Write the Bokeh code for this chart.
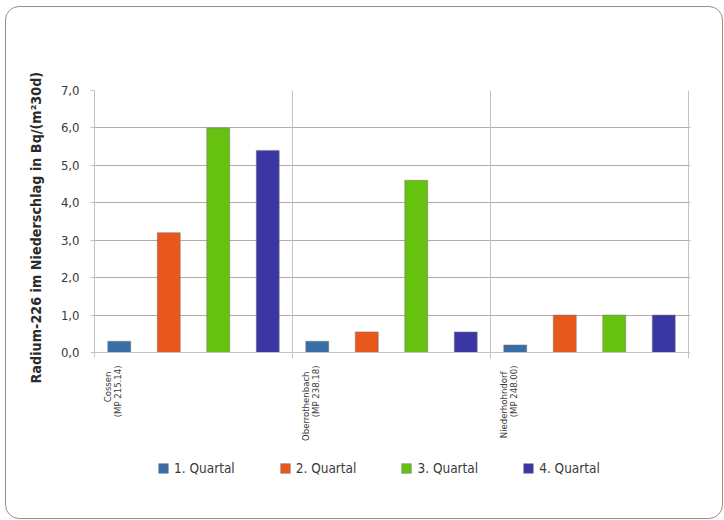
import math
from bokeh.plotting import figure
from bokeh.models import (ColumnDataSource, FixedTicker, CustomJSTickFormatter,
                          Legend, LegendItem, LinearAxis, Title)
from bokeh.embed import file_html
from bokeh.resources import INLINE

# Radium-226 in precipitation, quarterly values per monitoring point
station_names = ["Cossen", "Oberrothenbach", "Niederhohndorf"]
station_ids = ["(MP 215.14)", "(MP 238.18)", "(MP 248.00)"]
quarters = ["1. Quartal", "2. Quartal", "3. Quartal", "4. Quartal"]
q1 = [0.3, 0.3, 0.2]
q2 = [3.2, 0.55, 1.0]
q3 = [6.0, 4.6, 1.0]
q4 = [5.4, 0.55, 1.0]
series = [q1, q2, q3, q4]
colors = ["#386ea6", "#e8571c", "#67c10f", "#3a37a4"]
y_ticks = [0, 1, 2, 3, 4, 5, 6, 7]
y_tick_labels = ["0,0", "1,0", "2,0", "3,0", "4,0", "5,0", "6,0", "7,0"]
y_title = "Radium-226 im Niederschlag in Bq/(m\u00b230d)"

FONT = "DejaVu Sans Condensed"
TEXT = "#3a3a3a"
AXIS_GRAY = "#c3c3c3"
GRID_BROWN = "#bba9a0"

n = len(station_names)
y_top = y_ticks[-1]
unit = 262 / y_top                     # pixels per Bq unit on the value axis
frame_h = 415                          # frame reaches down to hold labels and legend
y_bottom = -(frame_h - 262) / unit

p = figure(frame_width=596, frame_height=frame_h,
           x_range=(0, n * 596 / 594), y_range=(y_bottom, y_top),
           output_backend="svg", toolbar_location=None,
           min_border_left=88, min_border_right=32,
           min_border_top=83, min_border_bottom=13)
p.outline_line_color = None
p.background_fill_color = "white"
p.border_fill_alpha = 0
# rounded frame around the whole chart
p.styles = {"margin-left": "5px", "margin-top": "6px",
            "border": "1.5px solid #9c8f84", "border-radius": "14px"}

# group separators between the stations
sep_x = list(range(1, n + 1))
p.segment(x0=sep_x, x1=sep_x, y0=[0] * n, y1=[y_top] * n,
          line_color=AXIS_GRAY, line_width=1)

# bars: four slots per station group
slot = [0.125, 0.375, 0.625, 0.875]
renderers = []
for i, vals in enumerate(series):
    src = ColumnDataSource(dict(x=[g + slot[i] for g in range(n)], top=vals))
    r = p.vbar(x="x", top="top", bottom=0, width=0.116, source=src,
               fill_color=colors[i], line_color="#7a7a7a", line_alpha=0.55, line_width=1)
    renderers.append(r)

# y axis
p.yaxis.bounds = (-0.1, y_top)
p.yaxis.ticker = FixedTicker(ticks=y_ticks)
p.yaxis.formatter = CustomJSTickFormatter(args=dict(labels=y_tick_labels),
                                          code="return labels[index];")
p.yaxis.major_label_text_font = FONT
p.yaxis.major_label_text_font_size = "13px"
p.yaxis.major_label_text_color = TEXT
p.yaxis.major_label_standoff = 11
p.yaxis.axis_line_color = AXIS_GRAY
p.yaxis.major_tick_line_color = AXIS_GRAY
p.yaxis.major_tick_out = 4
p.yaxis.major_tick_in = 0
p.yaxis.minor_tick_line_color = None

# y title, starting a little below the zero line and running upwards
p.add_layout(Title(text=y_title, align="left", offset=122, standoff=28,
                   text_font=FONT, text_font_style="bold", text_font_size="14.25px",
                   text_color="#2a2a2a"), "left")


def station_axis(ax, positions, labels, line=False):
    """Bottom axis pinned at y=0 carrying one line of the station labels."""
    ax.fixed_location = 0
    ax.ticker = FixedTicker(ticks=[g + positions for g in range(n)],
                            minor_ticks=list(range(n + 1)) if line else [])
    ax.formatter = CustomJSTickFormatter(args=dict(labels=labels),
                                         code="return labels[index];")
    ax.major_label_orientation = math.pi / 2
    ax.major_label_text_font = FONT
    ax.major_label_text_font_size = "9.5px"
    ax.major_label_text_color = TEXT
    ax.major_tick_line_color = None
    ax.major_tick_out = 0
    ax.major_label_standoff = 13
    ax.minor_tick_line_color = AXIS_GRAY if line else None
    ax.minor_tick_out = 6
    ax.minor_tick_in = 0
    ax.axis_line_color = AXIS_GRAY if line else None
    return ax


station_axis(p.xaxis[0], 0.066, station_names, line=True)
p.add_layout(station_axis(LinearAxis(), 0.118, station_ids), "below")

# grids
p.xgrid.visible = False
p.ygrid.ticker = FixedTicker(ticks=y_ticks[1:])
p.ygrid.grid_line_color = GRID_BROWN

# legend under the station labels
legend = Legend(items=[LegendItem(label=q, renderers=[r]) for q, r in zip(quarters, renderers)],
                orientation="horizontal", location=(63, 29),
                glyph_width=12, glyph_height=12, label_standoff=5, spacing=44,
                padding=0, margin=0, background_fill_alpha=0, border_line_alpha=0,
                label_text_font=FONT, label_text_font_size="13.5px",
                label_text_color=TEXT)
p.add_layout(legend)

open("out.html", "w").write(file_html(p, INLINE))
